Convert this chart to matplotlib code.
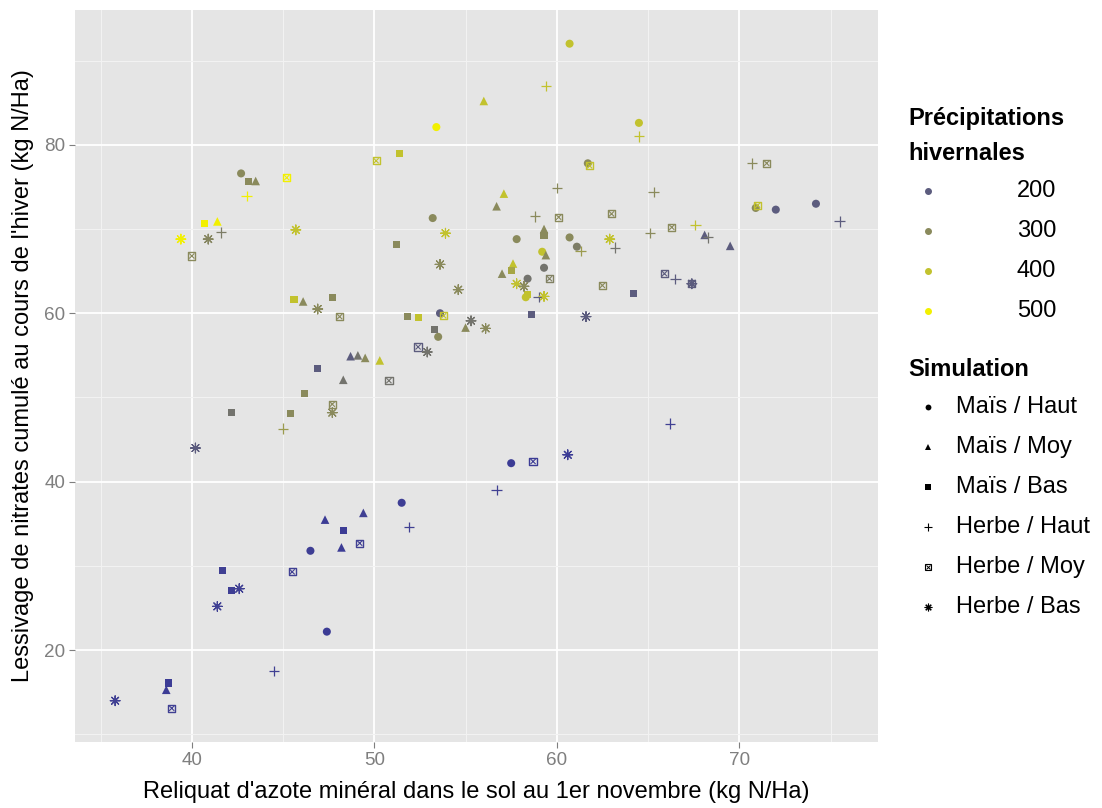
import matplotlib
matplotlib.use("Agg")
import matplotlib.pyplot as plt
from matplotlib.colors import LinearSegmentedColormap
from matplotlib.lines import Line2D

plt.rcParams['font.family'] = ['Liberation Sans', 'DejaVu Sans']

# ---------------- data: (reliquat, lessivage, precipitations) ----------------
mais_haut_x = [53.4, 60.7, 64.5, 42.7, 61.7, 70.9, 72.0, 74.2, 53.2, 57.8, 60.7, 61.1,
               59.2, 59.3, 58.4, 58.3, 53.6, 53.5, 57.5, 51.5, 46.5, 47.4]
mais_haut_y = [82.1, 92.0, 82.6, 76.6, 77.8, 72.5, 72.3, 73.0, 71.3, 68.8, 69.0, 67.9,
               67.3, 65.4, 64.1, 61.9, 60.0, 57.2, 42.2, 37.5, 31.8, 22.2]
mais_haut_p = [500, 400, 400, 300, 300, 300, 200, 200, 300, 300, 300, 270,
               400, 250, 250, 400, 200, 300, 110, 115, 115, 110]

mais_moy_x = [56.0, 41.4, 43.5, 57.1, 56.7, 59.3, 59.4, 68.1, 69.5, 57.6, 57.0, 46.1,
              55.0, 48.7, 49.1, 49.5, 50.3, 48.3, 47.3, 48.2, 49.4, 38.6]
mais_moy_y = [85.2, 70.9, 75.7, 74.2, 72.7, 70.0, 66.9, 69.3, 68.0, 65.9, 64.7, 61.4,
              58.3, 54.9, 55.0, 54.7, 54.4, 52.1, 35.5, 32.2, 36.3, 15.3]
mais_moy_p = [400, 500, 300, 400, 300, 300, 300, 200, 200, 400, 300, 300,
              300, 200, 250, 300, 400, 250, 110, 110, 120, 110]

mais_bas_x = [40.7, 43.1, 51.4, 59.3, 57.5, 58.4, 58.6, 64.2, 45.6, 47.7, 51.8, 52.4,
              53.3, 51.2, 46.9, 46.2, 45.4, 42.2, 48.3, 41.7, 42.2, 38.7]
mais_bas_y = [70.7, 75.6, 79.0, 69.2, 65.1, 62.2, 59.8, 62.3, 61.6, 61.9, 59.6, 59.5,
              58.1, 68.2, 53.4, 50.5, 48.1, 48.2, 34.2, 29.5, 27.1, 16.1]
mais_bas_p = [500, 300, 400, 300, 350, 400, 200, 200, 400, 300, 300, 400,
              250, 300, 200, 300, 300, 250, 110, 120, 115, 110]

herbe_haut_x = [59.4, 64.5, 43.0, 41.6, 60.0, 70.7, 65.3, 58.8, 61.3, 63.2, 65.1, 67.6,
                68.3, 75.5, 59.0, 66.5, 45.0, 66.2, 56.7, 51.9, 44.5]
herbe_haut_y = [87.0, 81.0, 73.9, 69.6, 74.9, 77.8, 74.4, 71.5, 67.4, 67.8, 69.5, 70.5,
                69.0, 70.9, 61.9, 64.1, 46.3, 46.9, 39.0, 34.6, 17.5]
herbe_haut_p = [400, 400, 500, 270, 300, 300, 300, 300, 330, 250, 300, 400,
                250, 200, 200, 200, 330, 120, 120, 120, 120]

herbe_moy_x = [50.1, 45.2, 61.8, 71.5, 71.0, 40.0, 63.0, 60.1, 66.3, 59.6, 62.5, 65.9,
               67.4, 53.8, 48.1, 52.4, 50.8, 47.7, 58.7, 49.2, 45.5, 38.9]
herbe_moy_y = [78.1, 76.1, 77.5, 77.8, 72.8, 66.8, 71.8, 71.4, 70.2, 64.1, 63.3, 64.7,
               63.5, 59.7, 59.6, 56.0, 52.0, 49.2, 42.4, 32.7, 29.3, 13.1]
herbe_moy_p = [400, 500, 400, 300, 400, 300, 300, 300, 300, 280, 300, 200,
               200, 400, 300, 200, 250, 300, 110, 120, 120, 120]

herbe_bas_x = [39.4, 40.9, 45.7, 53.9, 62.9, 53.6, 57.8, 58.2, 59.3, 54.6, 46.9, 55.3,
               56.1, 52.9, 47.7, 61.6, 67.4, 40.2, 60.6, 42.6, 41.4, 35.8]
herbe_bas_y = [68.8, 68.8, 69.9, 69.5, 68.8, 65.8, 63.5, 63.2, 62.0, 62.8, 60.5, 59.1,
               58.2, 55.4, 48.2, 59.6, 63.5, 44.0, 43.2, 27.3, 25.2, 14.0]
herbe_bas_p = [500, 290, 400, 400, 400, 300, 400, 300, 400, 300, 300, 250,
               300, 250, 300, 200, 200, 200, 110, 120, 120, 120]

precip_breaks = [200, 300, 400, 500]
simulation_labels = ["Maïs / Haut", "Maïs / Moy", "Maïs / Bas",
                     "Herbe / Haut", "Herbe / Moy", "Herbe / Bas"]
x_ticks = [40, 50, 60, 70]
y_ticks = [20, 40, 60, 80]

# ---------------- colour scale ----------------
vmin, vmax = 100, 520
anchors = [(100, "#393998"), (200, "#5c5c7e"), (300, "#8a8a5c"),
           (400, "#c2c22e"), (500, "#f2f000"), (520, "#ffff00")]
cmap = LinearSegmentedColormap.from_list(
    "precip", [((v - vmin) / (vmax - vmin), c) for v, c in anchors])
norm = plt.Normalize(vmin, vmax)

fig = plt.figure(figsize=(11.02, 8.08), dpi=100)
ax = fig.add_axes([75 / 1102, 66 / 808, 803 / 1102, 732 / 808])
ax.set_facecolor("#E5E5E5")
for s in ax.spines.values():
    s.set_visible(False)

ax.set_xlim(33.6, 77.6)
ax.set_ylim(9.1, 96.0)
ax.set_xticks(x_ticks)
ax.set_yticks(y_ticks)
ax.set_xticks([35, 45, 55, 65, 75], minor=True)
ax.set_yticks([10, 30, 50, 70, 90], minor=True)
ax.grid(which="major", color="white", linewidth=1.3)
ax.grid(which="minor", color="#F2F2F2", linewidth=0.8)
ax.set_axisbelow(True)
ax.tick_params(which="major", colors="#7F7F7F", labelsize=13.6, length=4, width=0.8, pad=3)
ax.tick_params(which="minor", length=0)

common = dict(cmap=cmap, norm=norm)
ax.scatter(mais_haut_x, mais_haut_y, c=mais_haut_p, marker="o", s=5.8**2, linewidths=0, **common)
ax.scatter(mais_moy_x, mais_moy_y, c=mais_moy_p, marker="^", s=6.2**2, linewidths=0, **common)
ax.scatter(mais_bas_x, mais_bas_y, c=mais_bas_p, marker="s", s=5.1**2, linewidths=0, **common)
ax.scatter(herbe_haut_x, herbe_haut_y, c=herbe_haut_p, marker="+", s=7.5**2, linewidths=0.9, **common)
# boxed cross: square outline + x
box_cols = cmap(norm(herbe_moy_p))
ax.scatter(herbe_moy_x, herbe_moy_y, marker="s", s=5.2**2, facecolors="none",
           edgecolors=box_cols, linewidths=1.0)
ax.scatter(herbe_moy_x, herbe_moy_y, marker="x", s=3.7**2, color=box_cols, linewidths=0.8)
ax.scatter(herbe_bas_x, herbe_bas_y, c=herbe_bas_p, marker=(8, 2, 0), s=7.0**2, linewidths=0.85, **common)

ax.set_xlabel("Reliquat d'azote minéral dans le sol au 1er novembre (kg N/Ha)", fontsize=17, labelpad=9)
ax.set_ylabel("Lessivage de nitrates cumulé au cours de l'hiver (kg N/Ha)", fontsize=17, labelpad=7)

# ---------------- legends (drawn manually) ----------------
def fx(px):
    return px / 1102

def fy(py):
    return 1 - py / 808

fig.text(fx(908), fy(118), "Précipitations", fontsize=17, fontweight="bold", va="center", ha="left")
fig.text(fx(908), fy(153), "hivernales", fontsize=17, fontweight="bold", va="center", ha="left")
for i, v in enumerate(precip_breaks):
    yy = 191 + i * 40
    fig.add_artist(Line2D([fx(928)], [fy(yy)], transform=fig.transFigure, marker="o",
                          markersize=4, color=cmap(norm(v)), linestyle="none"))
    fig.text(fx(1056), fy(yy), str(v), fontsize=17, va="center", ha="right")

fig.text(fx(908), fy(370), "Simulation", fontsize=17, fontweight="bold", va="center", ha="left")
leg_markers = [("o", 4.2, 0), ("^", 4.6, 0), ("s", 4.0, 0), ("+", 6, 0.8), ("box", 4, 0.8), ((8, 2, 0), 5.5, 0.8)]
for i, (lab, (mk, ms, lw)) in enumerate(zip(simulation_labels, leg_markers)):
    yy = 407 + i * 40
    if mk == "box":
        fig.add_artist(Line2D([fx(928)], [fy(yy)], transform=fig.transFigure, marker="s",
                              markersize=ms, markerfacecolor="none", markeredgecolor="black",
                              markeredgewidth=lw, linestyle="none"))
        fig.add_artist(Line2D([fx(928)], [fy(yy)], transform=fig.transFigure, marker="x",
                              markersize=ms * 0.7, color="black", markeredgewidth=0.7, linestyle="none"))
    else:
        fig.add_artist(Line2D([fx(928)], [fy(yy)], transform=fig.transFigure, marker=mk,
                              markersize=ms, color="black", markeredgewidth=lw, linestyle="none"))
    fig.text(fx(956), fy(yy), lab, fontsize=17, va="center", ha="left")

fig.savefig("out.png", dpi=100, facecolor="white")
